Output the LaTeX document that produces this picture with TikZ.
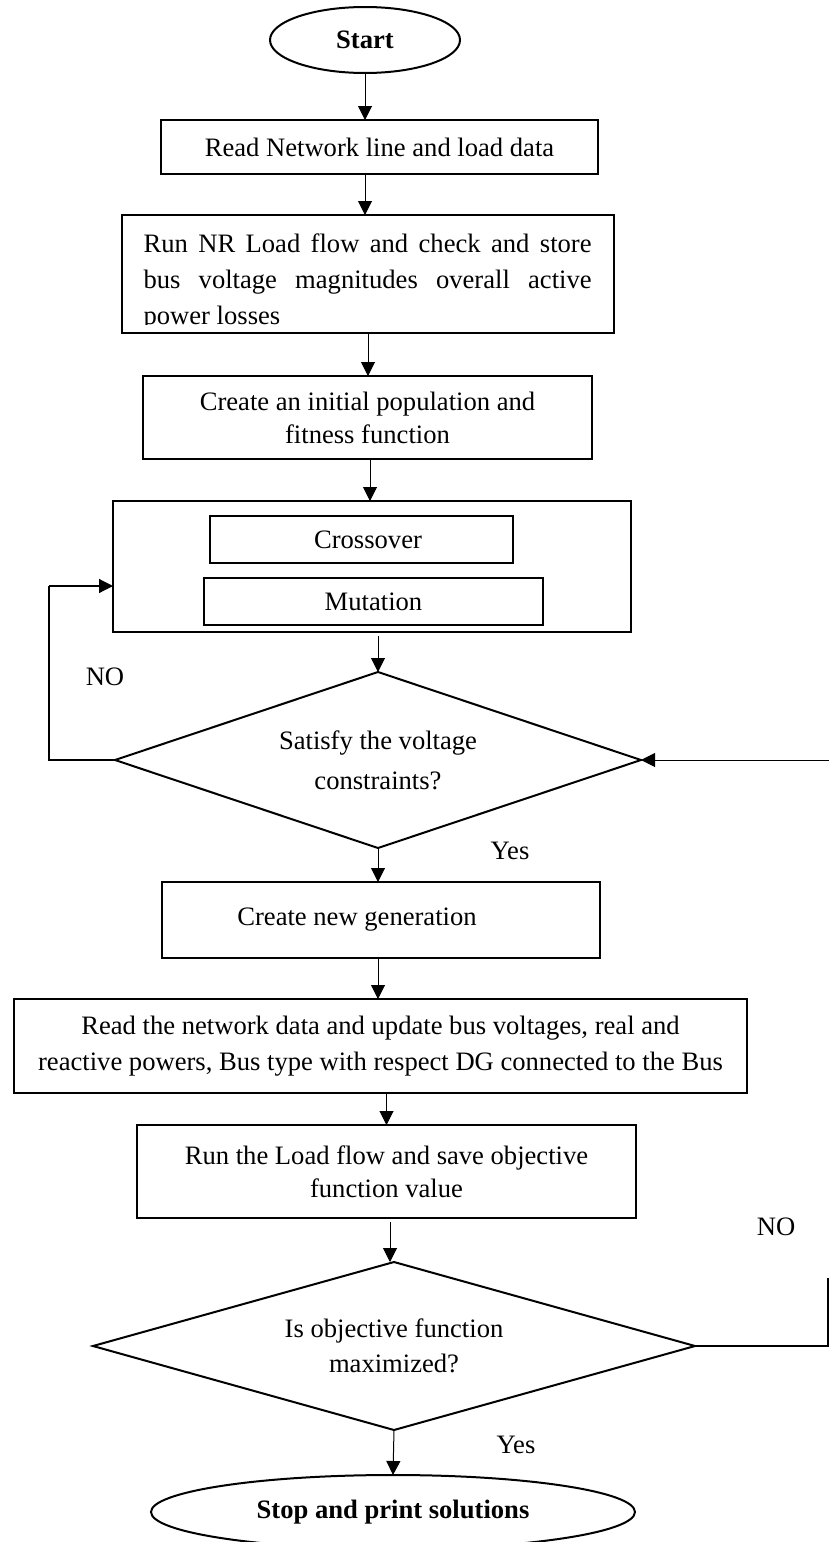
\documentclass[tikz,border=0pt]{standalone}
\usepackage{fontspec}
\setmainfont{Liberation Serif}
\usetikzlibrary{shapes.geometric,arrows.meta}
\begin{document}
\begin{tikzpicture}[x=0.5pt,y=-0.5pt,
  every node/.style={font=\fontsize{13.3}{18}\selectfont, inner sep=0pt, outer sep=0pt},
  box/.style={draw, line width=1pt, rectangle},
  oval/.style={draw, line width=1pt, ellipse},
  dec/.style={draw, line width=1pt, diamond},
  arr/.style={line width=0.5pt, -{Triangle[length=7pt,width=7pt]}},
  lnk/.style={line width=0.6pt}
]
\useasboundingbox (0,0) rectangle (829,1542);
\clip (0,0) rectangle (829,1542);

% nodes
\node[oval, minimum width=95pt, minimum height=33pt, font=\fontsize{13.3}{18}\selectfont\bfseries] (start) at (365,40) {Start};
\node[box, minimum width=218.5pt, minimum height=27pt] (b1) at (379.5,147) {Read Network line and load data};
\node[box, minimum width=246pt, minimum height=59pt] (b2) at (368,274) {};
\begin{scope}
  \clip (122,215) rectangle (614,324);
  \node[anchor=north west, align=left] (b2t) at (143.6,234)
    {\makebox[224pt][s]{Run NR Load flow and check and store}\\
     \makebox[224pt][s]{bus voltage magnitudes overall active}\\
     power losses};
\end{scope}
\node[box, minimum width=224.5pt, minimum height=41.5pt, align=center,
      font=\fontsize{13.3}{16.5}\selectfont] (b3) at (367.5,417.5)
  {Create an initial population and\\fitness function};
\node[box, minimum width=259pt, minimum height=65.5pt] (ga) at (372,566.5) {};
\node[box, minimum width=151.5pt, minimum height=23.5pt] (cross) at (361.5,539.5) {\hspace*{6.5pt}Crossover};
\node[box, minimum width=169.5pt, minimum height=23.5pt] (mut) at (373.5,601.5) {Mutation};
\node[dec, aspect=3, minimum width=263pt, minimum height=88pt, align=center,
      font=\fontsize{13.3}{20}\selectfont] (d1) at (378,760)
  {Satisfy the voltage\\constraints?};
\node[box, minimum width=219pt, minimum height=38pt] (b4) at (381,920) {Create new generation\hspace*{24pt}};
\node[box, minimum width=366.5pt, minimum height=47pt, align=center] (b5) at (380.5,1046)
  {Read the network data and update bus voltages, real and\\reactive powers, Bus type with respect DG connected to the Bus};
\node[box, minimum width=249.5pt, minimum height=46.5pt, align=center,
      font=\fontsize{13.3}{16.5}\selectfont] (b6) at (386.5,1171.5)
  {Run the Load flow and save objective\\function value};
\node[dec, aspect=3.5, minimum width=301pt, minimum height=84pt, align=center,
      font=\fontsize{13.3}{17.5}\selectfont] (d2) at (394,1346)
  {Is objective function\\maximized?};
\node[oval, minimum width=242pt, minimum height=37pt, font=\fontsize{13.3}{18}\selectfont\bfseries] (stop) at (393,1512) {Stop and print solutions};

% labels
\node (no1) at (105,677) {NO};
\node (yes1) at (510,851) {Yes};
\node (no2) at (776,1227) {NO};
\node (yes2) at (516,1445) {Yes};

% coordinates
\coordinate (lk) at (49,586);
\coordinate (rt) at (830,760);
\coordinate (rb) at (828,1278);

% connectors
\draw[arr] (start.south) -- (start.south |- b1.north);
\draw[arr] (b1.south -| start.south) -- (b2.north -| start.south);
\draw[arr] (b2.south) -- (b2.south |- b3.north);
\draw[arr] (b3.south -| 370,0) -- (ga.north -| 370,0);
\draw[arr] (ga.south -| d1.north) ++(0,4) -- (d1.north);
\draw[arr] (d1.south) -- (d1.south |- b4.north);
\draw[arr] (b4.south -| d1.south) -- (b5.north -| d1.south);
\draw[arr] (b5.south -| b6.north) -- (b6.north);
\draw[arr] (b6.south -| 390,0) ++(0,4) -- (d2.north -| 390,0);
\draw[arr] (d2.south) -- (stop.north);
\draw[lnk] (d1.west) -| (lk);
\draw[arr, line width=0.6pt] (lk) -- (ga.west |- lk);
\draw[arr] (rt) -- (d1.east);
\draw[lnk] (d2.east) -| (rb);
\end{tikzpicture}
\end{document}
